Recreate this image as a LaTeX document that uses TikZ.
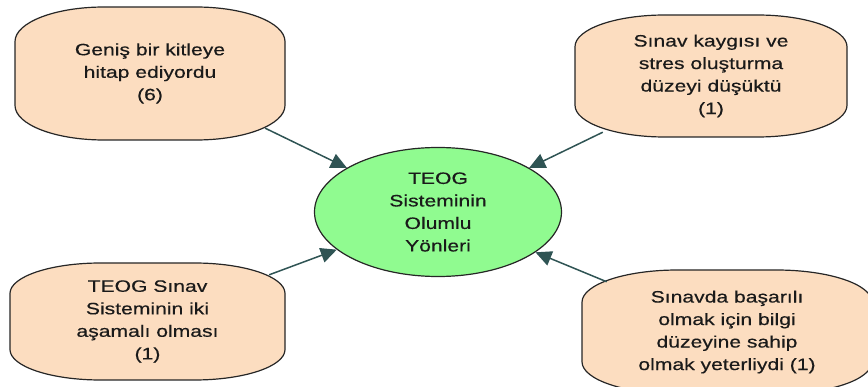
\documentclass[tikz,border=0pt]{standalone}
\usepackage{fontspec}
\setmainfont[FakeStretch=1.28,FakeBold=0.4]{Liberation Sans}
\usetikzlibrary{arrows.meta,calc,shapes.geometric}

\definecolor{peach}{HTML}{FCDDC0}
\definecolor{mint}{HTML}{90FB90}
\definecolor{edge}{HTML}{262626}
\definecolor{link}{HTML}{2F5454}
\definecolor{ink}{HTML}{1A1A1A}

\tikzset{
  boxline/.style={draw=edge, line width=1.2pt, fill=peach},
  boxtext/.style={align=center, text=ink, font=\fontsize{16.5}{22.5}\selectfont, inner sep=0pt},
  hub/.style={ellipse, draw=edge, line width=1.2pt, fill=mint, align=center, text=ink,
              font=\fontsize{16.5}{22.5}\selectfont, minimum width=247pt, minimum height=129pt, inner sep=0pt},
  link/.style={draw=link, line width=1.5pt, -{Triangle[length=16pt,width=15pt]}}
}

% soft box: elliptical corners, then a text node named #1 spanning it
\newcommand{\softbox}[6]{%
  \pgfmathsetmacro\rx{0.33*(#4-#2)}%
  \pgfmathsetmacro\ry{0.26*(#5-#3)}%
  \pgfmathsetmacro\kx{0.5523*\rx}%
  \pgfmathsetmacro\ky{0.5523*\ry}%
  \path[boxline] (#2,#3+\ry)
     .. controls (#2,#3+\ry-\ky) and (#2+\rx-\kx,#3) .. (#2+\rx,#3)
     -- (#4-\rx,#3)
     .. controls (#4-\rx+\kx,#3) and (#4,#3+\ry-\ky) .. (#4,#3+\ry)
     -- (#4,#5-\ry)
     .. controls (#4,#5-\ry+\ky) and (#4-\rx+\kx,#5) .. (#4-\rx,#5)
     -- (#2+\rx,#5)
     .. controls (#2+\rx-\kx,#5) and (#2,#5-\ry+\ky) .. (#2,#5-\ry)
     -- cycle;
  \node[boxtext, minimum width={(#4-#2)*1pt}, minimum height={(#5-#3)*1pt}]
     (#1) at ({(#2+#4)/2},{(#3+#5)/2}) {#6};%
}

\begin{document}
\begin{tikzpicture}[x=1pt,y=-1pt]
  \useasboundingbox (0,0) rectangle (868,387);
  \clip (0,0) rectangle (868,387);

  \node[hub] (c) at (438,212) {TEOG\\Sisteminin\\Olumlu\\Yönleri};

  \softbox{wide}{15}{7}{285}{140}{Geniş bir kitleye\\hitap ediyordu\\(6)}
  \softbox{stress}{575}{15}{847}{137}{Sınav kaygısı ve\\stres oluşturma\\düzeyi düşüktü\\(1)}
  \softbox{twostep}{10}{263}{285}{380}{TEOG Sınav\\Sisteminin iki\\aşamalı olması\\(1)}
  \softbox{enough}{582}{270}{872}{394}{Sınavda başarılı\\olmak için bilgi\\düzeyine sahip\\olmak yeterliydi (1)}

  \draw[link] ($(wide.south east)+(-20,-12)$) -- (c);
  \draw[link] ($(stress.south west)+(28,-5)$) -- (c);
  \draw[link] ($(twostep.north east)+(-16,12)$) -- (c);
  \draw[link] ($(enough.north west)+(25,12)$) -- (c);
\end{tikzpicture}
\end{document}
